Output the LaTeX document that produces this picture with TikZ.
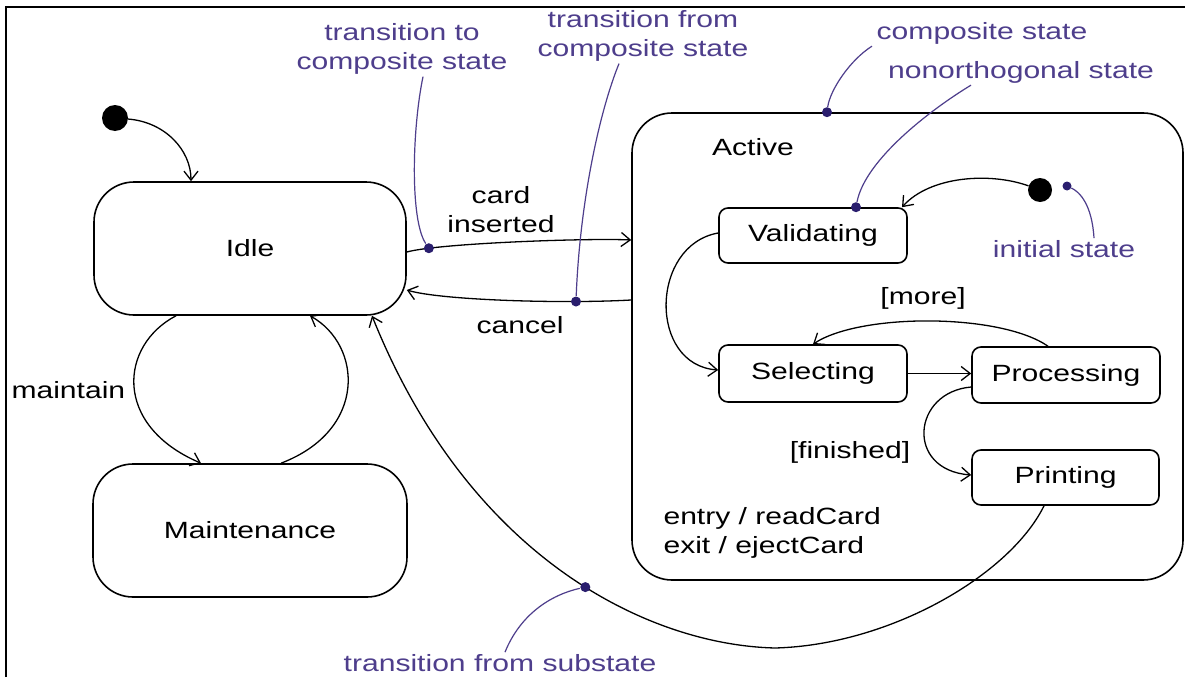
\documentclass[tikz,border=0pt]{standalone}
\usepackage{fontspec}
\setmainfont{Liberation Sans}[FakeStretch=1.28]
\usetikzlibrary{arrows.meta}
\definecolor{callout}{RGB}{78,62,140}
\definecolor{dotc}{RGB}{42,30,110}
\begin{document}
\begin{tikzpicture}[x=1pt,y=-1pt,
  every node/.style={font=\fontsize{23.5}{29}\selectfont},
  statebox/.style={draw, line width=1.6pt, rounded corners=#1, inner sep=0pt},
  statebox/.default=9pt,
  initdot/.style={circle, fill=black, inner sep=0pt},
  dotnode/.style={circle, fill=dotc, inner sep=0pt, minimum size=10pt},
  callout/.style={text=callout, align=center, inner sep=2pt},
  arr/.style={line width=1.3pt, -{Straight Barb[length=9pt,width=14pt]}},
  lead/.style={draw=callout, line width=1.2pt}]
\useasboundingbox (0,0) rectangle (1185,677);
\fill[white] (0,0) rectangle (1185,677);
\draw[line width=2pt] (6,677) -- (6,7) -- (1185,7);

% states
\node[statebox=40pt, minimum width=312pt, minimum height=133pt] (idle) at (250,248.5) {Idle};
\node[statebox=40pt, minimum width=314pt, minimum height=133pt] (maint) at (250,530.5) {Maintenance};
\node[statebox=40pt, minimum width=551pt, minimum height=467pt] (active) at (907.5,346.5) {};
\node (activelbl) at (753,147) {Active};
\node[statebox, minimum width=188pt, minimum height=55pt] (valid) at (813,235.5) {Validating};
\node[statebox, minimum width=188pt, minimum height=57pt] (select) at (813,373.5) {Selecting};
\node[statebox, minimum width=188pt, minimum height=56pt] (proc) at (1066,375) {Processing};
\node[statebox, minimum width=187pt, minimum height=55pt] (print) at (1065.5,477.5) {Printing};
\node[initdot, minimum size=26pt] (init) at (115,118) {};
\node[initdot, minimum size=24pt] (init2) at (1040,190) {};

% labels
\node[align=center] (lcard) at (501,210) {card\\inserted};
\node (lcancel) at (520,325) {cancel};
\node[anchor=west] (lmaint) at (8,390) {maintain};
\node (lmore) at (923,298) {[more]};
\node (lfin) at (850,452) {[finished]};
\node[anchor=west, align=left] (lentry) at (660,532.5) {entry / readCard\\exit / ejectCard};

% callouts
\node[callout] (c1) at (402,49) {transition to\\composite state};
\node[callout] (c2) at (643,36) {transition from\\composite state};
\node[callout] (c3) at (982,33) {composite state};
\node[callout] (c4) at (1021,72) {nonorthogonal state};
\node[callout] (c5) at (1064,249) {initial state};
\node[callout] (c6) at (500,663) {transition from substate};

% transitions
\draw[arr] (init) .. controls (165,122) and (191,150) .. (idle.north -| 191,0);
\draw[arr] (idle.east |- 0,252) .. controls (440,243) and (590,238) .. (active.west |- 0,240)
  node[dotnode, pos=0.15] (d1) {};
\draw[arr] (active.west |- 0,300) .. controls (560,304) and (440,300) .. (idle.east |- 0,290)
  node[dotnode, pos=0.23] (d2) {};
\draw[arr] (idle.south -| 176,0) .. controls (120,345) and (112,425) .. (maint.north -| 201,0);
\draw[arr] (maint.north -| 281,0) .. controls (368,430) and (362,345) .. (idle.south -| 310,0);
\draw[arr] (valid.west |- 0,233) .. controls (650,245) and (648,365) .. (select.west |- 0,370);
\draw[arr] (select.east) -- (proc.west |- select.east);
\draw[arr] (proc.north -| 1048,0) .. controls (1000,313) and (860,313) .. (select.north -| 813,0);
\draw[arr] (proc.west |- 0,387) .. controls (912,392) and (905,470) .. (print.west |- 0,475);
\draw[arr] (init2) .. controls (990,172) and (930,176) .. (valid.north -| 902,0);
\coordinate (sub) at (775,648);
\draw[arr] (print.south -| 1044,0) .. controls (1010,575) and (890,645) .. (sub)
  .. controls (650,645) and (470,560) .. (idle.south -| 372,0)
  node[dotnode, pos=0.45] (d6) {};

% dots on states
\node[dotnode] (d3) at (active.north -| 827,0) {};
\node[dotnode] (d4) at (valid.north -| 856,0) {};
\node[dotnode, minimum size=9pt] (d5) at (1067,186) {};

% leaders
\draw[lead] (c1.south -| 423,0) .. controls (412,130) and (410,220) .. (d1);
\draw[lead] (c2.south -| 619,0) .. controls (600,110) and (580,200) .. (d2);
\draw[lead] (c3.south -| 872,0) .. controls (850,60) and (830,90) .. (d3);
\draw[lead] (c4.south -| 971,0) .. controls (930,110) and (865,160) .. (d4);
\draw[lead] (c5.north -| 1094,0) .. controls (1092,205) and (1080,192) .. (d5);
\draw[lead] (c6.north -| 505,0) .. controls (520,615) and (550,595) .. (d6);
\end{tikzpicture}
\end{document}
